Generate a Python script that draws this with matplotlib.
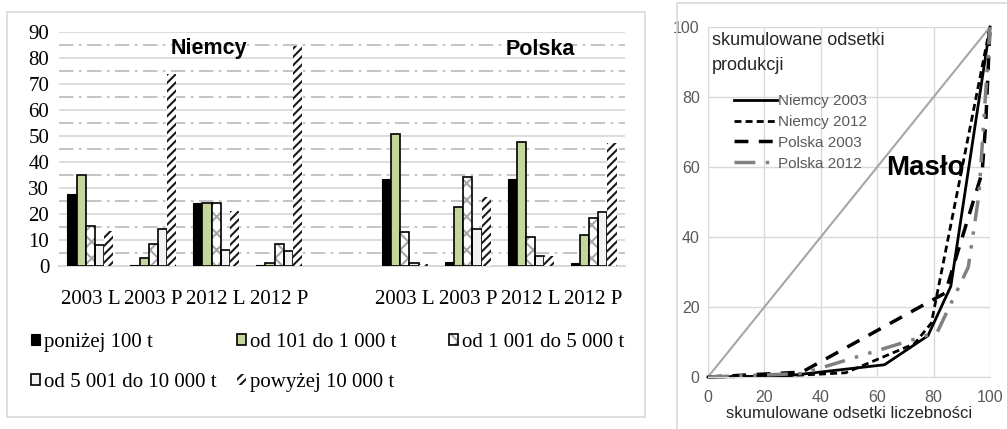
import matplotlib
matplotlib.use('Agg')
import matplotlib.pyplot as plt
import numpy as np
from matplotlib.patches import Rectangle
from matplotlib.ticker import MultipleLocator

# dane - wykres slupkowy (udzialy w %)
kategorie = ['2003 L', '2003 P', '2012 L', '2012 P']
kraje = ['Niemcy', 'Polska']
klasy = ['poniżej 100 t', 'od 101 do 1 000 t', 'od 1 001 do 5 000 t',
         'od 5 001 do 10 000 t', 'powyżej 10 000 t']
ponizej_100 = [27.7, 0.3, 24.4, 0.2, 33.3, 1.4, 33.6, 1.0]
od_101_do_1000 = [34.9, 3.2, 24.4, 1.0, 50.8, 22.6, 47.7, 11.8]
od_1001_do_5000 = [15.4, 8.3, 24.4, 8.3, 13.1, 34.4, 11.0, 18.6]
od_5001_do_10000 = [8.1, 14.1, 6.0, 5.9, 1.3, 14.2, 3.8, 20.9]
powyzej_10000 = [13.5, 73.8, 21.0, 84.6, 0.8, 26.7, 3.8, 47.2]

# dane - krzywe koncentracji (skumulowane odsetki)
rownosc = [0, 100]
niemcy_2003_x = [0, 27.7, 62.6, 78.0, 86.1, 100]
niemcy_2003_y = [0, 0.3, 3.5, 11.8, 25.9, 100]
niemcy_2012_x = [0, 24.4, 48.8, 73.2, 79.2, 100]
niemcy_2012_y = [0, 0.2, 1.2, 9.5, 15.4, 100]
polska_2003_x = [0, 33.3, 84.1, 97.2, 98.5, 100]
polska_2003_y = [0, 1.4, 24.0, 58.4, 72.6, 100]
polska_2012_x = [0, 33.6, 81.3, 92.3, 96.1, 100]
polska_2012_y = [0, 1.0, 12.8, 31.4, 52.3, 100]

W, H = 1007, 429
serif = 'Liberation Serif'
narrow = ['Liberation Sans Narrow', 'Liberation Sans', 'DejaVu Sans']
plt.rcParams['hatch.linewidth'] = 1.5

fig = plt.figure(figsize=(W / 100, H / 100), dpi=100)

# ramki paneli
fig.add_artist(Rectangle((7 / W, 1 - 417 / H), 638 / W, 405 / H, transform=fig.transFigure,
                         fill=False, ec='#d9d9d9', lw=1.2))
fig.add_artist(Rectangle((677 / W, -0.1), 0.5, 1.1 - 3 / H, transform=fig.transFigure,
                         fill=False, ec='#d9d9d9', lw=1.2))

# ---------------- lewy panel: slupki ----------------
ax1 = fig.add_axes([59 / W, 163 / H, 566 / W, 234 / H])
xpos = np.array([0, 1, 2, 3, 5, 6, 7, 8])
w = 0.146

b0 = ax1.bar(xpos - 2 * w, ponizej_100, w, color='black', edgecolor='black', lw=0.8, zorder=3)
b1 = ax1.bar(xpos - w, od_101_do_1000, w, color='#c3d69b', edgecolor='black', lw=1.2, zorder=3)
b2h = ax1.bar(xpos, od_1001_do_5000, w, color='white', edgecolor='#a6a6a6',
              hatch='xx', lw=0, zorder=3)
b2o = ax1.bar(xpos, od_1001_do_5000, w, fill=False, edgecolor='black', lw=1.2, zorder=4)
b3 = ax1.bar(xpos + w, od_5001_do_10000, w, color='#f2f2f2', edgecolor='black', lw=1.2, zorder=3)
b4 = ax1.bar(xpos + 2 * w, powyzej_10000, w, color='white', edgecolor='#1a1a1a',
             hatch='////', lw=0, zorder=3)

ax1.set_xlim(-0.5, 8.5)
ax1.set_ylim(0, 90)
ax1.yaxis.set_major_locator(MultipleLocator(10))
ax1.yaxis.set_minor_locator(MultipleLocator(5))
ax1.grid(axis='y', which='major', color='#d9d9d9', lw=1.3)
ax1.grid(axis='y', which='minor', color='#bfbfbf', lw=1.3, ls=(0, (8, 3, 1.5, 3)))
ax1.set_axisbelow(True)
for s in ['top', 'right', 'left']:
    ax1.spines[s].set_visible(False)
ax1.spines['bottom'].set_color('#d9d9d9')
ax1.spines['bottom'].set_linewidth(1.5)
ax1.set_xticks(xpos)
ax1.set_xticklabels(kategorie * 2, fontsize=15, family=serif)
ax1.tick_params(axis='x', length=0, pad=17)
ax1.tick_params(axis='y', which='both', length=0, pad=7, labelsize=15)
for t in ax1.get_yticklabels():
    t.set_family(serif)

ax1.text(1.88, 83.5, kraje[0], ha='center', va='center', fontsize=15.5,
         fontweight='bold', family=['Liberation Sans', 'DejaVu Sans'])
ax1.text(7.15, 83.1, kraje[1], ha='center', va='center', fontsize=15.5,
         fontweight='bold', family=['Liberation Sans', 'DejaVu Sans'])

# legenda w trzech kolumnach
kolumny = [([b0, b3], [klasy[0], klasy[3]], 31),
           ([b1, b4], [klasy[1], klasy[4]], 237),
           ([(b2h, b2o)], [klasy[2]], 449)]
for uchwyty, etykiety, xl in kolumny:
    fig.legend(uchwyty, etykiety, loc='upper left', bbox_to_anchor=(xl / W, 1 - 333 / H),
               frameon=False, borderpad=0, borderaxespad=0, handlelength=0.45,
               handleheight=0.45, handletextpad=0.15, labelspacing=1.0,
               prop={'family': serif, 'size': 15})

# ---------------- prawy panel: krzywe ----------------
ax2 = fig.add_axes([708 / W, 52 / H, 282 / W, 350 / H])
ax2.plot(rownosc, rownosc, color='#a6a6a6', lw=1.5, clip_on=False)
ax2.plot(niemcy_2003_x, niemcy_2003_y, color='black', lw=2, label='Niemcy 2003', clip_on=False)
ax2.plot(niemcy_2012_x, niemcy_2012_y, color='black', lw=2, ls=(0, (2.5, 1.5)),
         label='Niemcy 2012', clip_on=False)
ax2.plot(polska_2003_x, polska_2003_y, color='black', lw=2.5, ls=(0, (4, 3)),
         label='Polska 2003', clip_on=False)
ax2.plot(polska_2012_x, polska_2012_y, color='#808080', lw=2.5, ls=(0, (6, 3, 1, 3, 1, 3)),
         label='Polska 2012', clip_on=False)

ax2.set_xlim(0, 100)
ax2.set_ylim(0, 100)
ax2.xaxis.set_major_locator(MultipleLocator(20))
ax2.yaxis.set_major_locator(MultipleLocator(20))
ax2.grid(color='#d9d9d9', lw=1)
ax2.set_axisbelow(True)
for s in ['top', 'right', 'left']:
    ax2.spines[s].set_visible(False)
ax2.spines['bottom'].set_color('#d9d9d9')
ax2.tick_params(length=0, labelsize=11.5, labelcolor='#595959')
ax2.tick_params(axis='x', pad=9)
ax2.tick_params(axis='y', pad=6)
for t in ax2.get_xticklabels() + ax2.get_yticklabels():
    t.set_family(narrow)
ax2.set_xlabel('skumulowane odsetki liczebności', fontsize=12, family=narrow,
               color='#262626', labelpad=1)
ax2.text(0.014, 0.985, 'skumulowane odsetki\nprodukcji', transform=ax2.transAxes,
         ha='left', va='top', fontsize=13, family=narrow, color='#262626', linespacing=1.6)
ax2.text(77, 59.7, 'Masło', ha='center', va='center', fontsize=20, fontweight='bold',
         family=narrow, color='black')
ax2.legend(loc='upper left', bbox_to_anchor=(734 / W, 1 - 94 / H),
           bbox_transform=fig.transFigure, frameon=False, borderpad=0, borderaxespad=0,
           handlelength=2.8, handletextpad=0.1, labelspacing=0.45,
           prop={'family': narrow, 'size': 11}, labelcolor='#595959')

fig.savefig('out.png', dpi=100)
